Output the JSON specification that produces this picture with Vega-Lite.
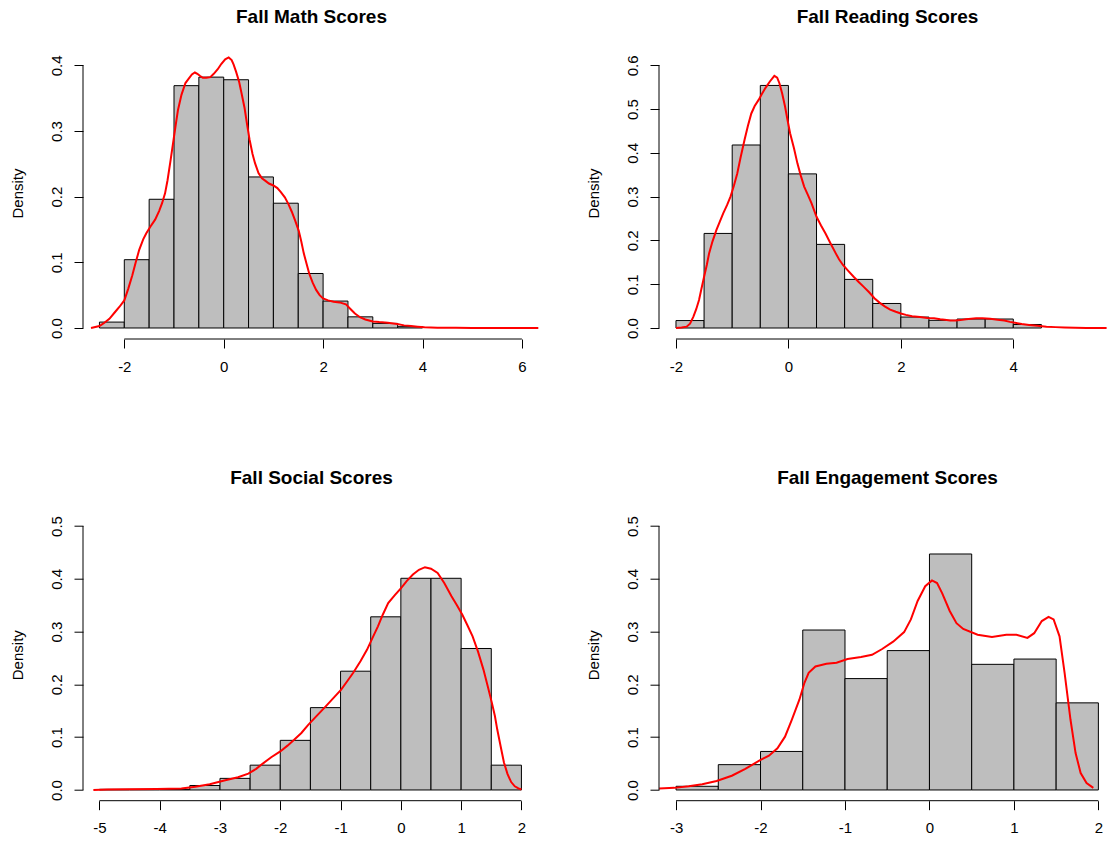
{
  "$schema": "https://vega.github.io/schema/vega-lite/v6.json",
  "background": "white",
  "autosize": {"type": "pad"},
  "padding": {"left": 10, "top": 7, "right": 0, "bottom": 0},
  "datasets": {
    "math_hist": [
      {"bin_start": -2.5, "bin_end": -2.0, "density": 0.009},
      {"bin_start": -2.0, "bin_end": -1.5, "density": 0.104},
      {"bin_start": -1.5, "bin_end": -1.0, "density": 0.196},
      {"bin_start": -1.0, "bin_end": -0.5, "density": 0.369},
      {"bin_start": -0.5, "bin_end": 0.0, "density": 0.382},
      {"bin_start": 0.0, "bin_end": 0.5, "density": 0.378},
      {"bin_start": 0.5, "bin_end": 1.0, "density": 0.230},
      {"bin_start": 1.0, "bin_end": 1.5, "density": 0.190},
      {"bin_start": 1.5, "bin_end": 2.0, "density": 0.083},
      {"bin_start": 2.0, "bin_end": 2.5, "density": 0.041},
      {"bin_start": 2.5, "bin_end": 3.0, "density": 0.017},
      {"bin_start": 3.0, "bin_end": 3.5, "density": 0.007},
      {"bin_start": 3.5, "bin_end": 4.0, "density": 0.002}
    ],
    "math_density": [
      {"x": -2.67, "density": 0}, {"x": -2.5, "density": 0.003}, {"x": -2.4, "density": 0.008}, {"x": -2.3, "density": 0.014},
      {"x": -2.19, "density": 0.024}, {"x": -2.1, "density": 0.032}, {"x": -2.0, "density": 0.042}, {"x": -1.92, "density": 0.06},
      {"x": -1.84, "density": 0.08}, {"x": -1.77, "density": 0.1}, {"x": -1.7, "density": 0.119}, {"x": -1.62, "density": 0.135},
      {"x": -1.56, "density": 0.144}, {"x": -1.47, "density": 0.155}, {"x": -1.38, "density": 0.165}, {"x": -1.3, "density": 0.178},
      {"x": -1.24, "density": 0.19}, {"x": -1.18, "density": 0.205}, {"x": -1.13, "density": 0.225}, {"x": -1.07, "density": 0.255},
      {"x": -1.01, "density": 0.286}, {"x": -0.96, "density": 0.312}, {"x": -0.92, "density": 0.332}, {"x": -0.85, "density": 0.355},
      {"x": -0.77, "density": 0.373}, {"x": -0.7, "density": 0.38}, {"x": -0.64, "density": 0.386}, {"x": -0.58, "density": 0.389},
      {"x": -0.53, "density": 0.387}, {"x": -0.48, "density": 0.384}, {"x": -0.42, "density": 0.381}, {"x": -0.35, "density": 0.381},
      {"x": -0.27, "density": 0.382}, {"x": -0.2, "density": 0.387}, {"x": -0.12, "density": 0.394}, {"x": -0.05, "density": 0.402},
      {"x": 0.03, "density": 0.409}, {"x": 0.1, "density": 0.412}, {"x": 0.16, "density": 0.408}, {"x": 0.2, "density": 0.401},
      {"x": 0.25, "density": 0.39}, {"x": 0.31, "density": 0.375}, {"x": 0.36, "density": 0.357}, {"x": 0.42, "density": 0.335},
      {"x": 0.47, "density": 0.31}, {"x": 0.52, "density": 0.287}, {"x": 0.58, "density": 0.265}, {"x": 0.63, "density": 0.251},
      {"x": 0.7, "density": 0.236}, {"x": 0.77, "density": 0.228}, {"x": 0.84, "density": 0.224}, {"x": 0.91, "density": 0.22},
      {"x": 1.0, "density": 0.217}, {"x": 1.08, "density": 0.213}, {"x": 1.15, "density": 0.207}, {"x": 1.23, "density": 0.199},
      {"x": 1.3, "density": 0.189}, {"x": 1.37, "density": 0.177}, {"x": 1.44, "density": 0.163}, {"x": 1.51, "density": 0.148},
      {"x": 1.56, "density": 0.132}, {"x": 1.61, "density": 0.114}, {"x": 1.67, "density": 0.097}, {"x": 1.72, "density": 0.083},
      {"x": 1.79, "density": 0.069}, {"x": 1.86, "density": 0.058}, {"x": 1.93, "density": 0.05}, {"x": 2.0, "density": 0.045},
      {"x": 2.1, "density": 0.042}, {"x": 2.21, "density": 0.04}, {"x": 2.33, "density": 0.039}, {"x": 2.46, "density": 0.036},
      {"x": 2.55, "density": 0.029}, {"x": 2.64, "density": 0.022}, {"x": 2.75, "density": 0.016}, {"x": 2.85, "density": 0.013},
      {"x": 3.0, "density": 0.01}, {"x": 3.13, "density": 0.009}, {"x": 3.3, "density": 0.008}, {"x": 3.49, "density": 0.006},
      {"x": 3.63, "density": 0.004}, {"x": 3.77, "density": 0.003}, {"x": 3.9, "density": 0.002}, {"x": 4.04, "density": 0.001},
      {"x": 4.3, "density": 0.0005}, {"x": 4.67, "density": 0.0002}, {"x": 5.0, "density": 0.0001}, {"x": 5.5, "density": 0},
      {"x": 6.0, "density": 0}, {"x": 6.33, "density": 0}
    ],
    "reading_hist": [
      {"bin_start": -2.0, "bin_end": -1.5, "density": 0.017},
      {"bin_start": -1.5, "bin_end": -1.0, "density": 0.216},
      {"bin_start": -1.0, "bin_end": -0.5, "density": 0.418},
      {"bin_start": -0.5, "bin_end": 0.0, "density": 0.554},
      {"bin_start": 0.0, "bin_end": 0.5, "density": 0.352},
      {"bin_start": 0.5, "bin_end": 1.0, "density": 0.191},
      {"bin_start": 1.0, "bin_end": 1.5, "density": 0.111},
      {"bin_start": 1.5, "bin_end": 2.0, "density": 0.056},
      {"bin_start": 2.0, "bin_end": 2.5, "density": 0.025},
      {"bin_start": 2.5, "bin_end": 3.0, "density": 0.0175},
      {"bin_start": 3.0, "bin_end": 3.5, "density": 0.0205},
      {"bin_start": 3.5, "bin_end": 4.0, "density": 0.0205},
      {"bin_start": 4.0, "bin_end": 4.5, "density": 0.008}
    ],
    "reading_density": [
      {"x": -2.0, "density": 0}, {"x": -1.9, "density": 0.001}, {"x": -1.81, "density": 0.003}, {"x": -1.75, "density": 0.01},
      {"x": -1.69, "density": 0.026}, {"x": -1.64, "density": 0.043}, {"x": -1.59, "density": 0.064}, {"x": -1.55, "density": 0.088},
      {"x": -1.5, "density": 0.117}, {"x": -1.45, "density": 0.145}, {"x": -1.41, "density": 0.171}, {"x": -1.35, "density": 0.198},
      {"x": -1.28, "density": 0.224}, {"x": -1.22, "density": 0.243}, {"x": -1.16, "density": 0.262}, {"x": -1.09, "density": 0.281},
      {"x": -1.03, "density": 0.3}, {"x": -0.97, "density": 0.325}, {"x": -0.91, "density": 0.353}, {"x": -0.85, "density": 0.39},
      {"x": -0.78, "density": 0.43}, {"x": -0.72, "density": 0.462}, {"x": -0.66, "density": 0.49}, {"x": -0.6, "density": 0.507},
      {"x": -0.53, "density": 0.521}, {"x": -0.47, "density": 0.535}, {"x": -0.41, "density": 0.548}, {"x": -0.33, "density": 0.563},
      {"x": -0.25, "density": 0.576}, {"x": -0.2, "density": 0.572}, {"x": -0.16, "density": 0.559}, {"x": -0.11, "density": 0.535},
      {"x": -0.06, "density": 0.506}, {"x": -0.02, "density": 0.478}, {"x": 0.03, "density": 0.445}, {"x": 0.1, "density": 0.41},
      {"x": 0.16, "density": 0.376}, {"x": 0.22, "density": 0.348}, {"x": 0.28, "density": 0.323}, {"x": 0.35, "density": 0.303},
      {"x": 0.41, "density": 0.285}, {"x": 0.5, "density": 0.254}, {"x": 0.58, "density": 0.234}, {"x": 0.66, "density": 0.216},
      {"x": 0.75, "density": 0.193}, {"x": 0.84, "density": 0.171}, {"x": 0.9, "density": 0.157}, {"x": 0.97, "density": 0.144},
      {"x": 1.06, "density": 0.131}, {"x": 1.16, "density": 0.117}, {"x": 1.25, "density": 0.105}, {"x": 1.34, "density": 0.094},
      {"x": 1.44, "density": 0.081}, {"x": 1.53, "density": 0.068}, {"x": 1.62, "density": 0.058}, {"x": 1.72, "density": 0.049},
      {"x": 1.81, "density": 0.042}, {"x": 1.91, "density": 0.037}, {"x": 2.0, "density": 0.033}, {"x": 2.09, "density": 0.03},
      {"x": 2.2, "density": 0.027}, {"x": 2.34, "density": 0.025}, {"x": 2.47, "density": 0.023}, {"x": 2.59, "density": 0.022},
      {"x": 2.7, "density": 0.02}, {"x": 2.78, "density": 0.019}, {"x": 2.88, "density": 0.017}, {"x": 2.97, "density": 0.017},
      {"x": 3.06, "density": 0.018}, {"x": 3.16, "density": 0.02}, {"x": 3.25, "density": 0.021}, {"x": 3.34, "density": 0.022},
      {"x": 3.45, "density": 0.022}, {"x": 3.59, "density": 0.021}, {"x": 3.72, "density": 0.019}, {"x": 3.84, "density": 0.017},
      {"x": 3.94, "density": 0.014}, {"x": 4.03, "density": 0.012}, {"x": 4.15, "density": 0.009}, {"x": 4.28, "density": 0.007},
      {"x": 4.43, "density": 0.005}, {"x": 4.59, "density": 0.003}, {"x": 4.75, "density": 0.002}, {"x": 4.91, "density": 0.001},
      {"x": 5.1, "density": 0.0003}, {"x": 5.3, "density": 0}, {"x": 5.66, "density": 0}
    ],
    "social_hist": [
      {"bin_start": -5.0, "bin_end": -4.5, "density": 0.0012},
      {"bin_start": -4.5, "bin_end": -4.0, "density": 0.0012},
      {"bin_start": -4.0, "bin_end": -3.5, "density": 0.0012},
      {"bin_start": -3.5, "bin_end": -3.0, "density": 0.0085},
      {"bin_start": -3.0, "bin_end": -2.5, "density": 0.022},
      {"bin_start": -2.5, "bin_end": -2.0, "density": 0.047},
      {"bin_start": -2.0, "bin_end": -1.5, "density": 0.094},
      {"bin_start": -1.5, "bin_end": -1.0, "density": 0.156},
      {"bin_start": -1.0, "bin_end": -0.5, "density": 0.225},
      {"bin_start": -0.5, "bin_end": 0.0, "density": 0.328},
      {"bin_start": 0.0, "bin_end": 0.5, "density": 0.401},
      {"bin_start": 0.5, "bin_end": 1.0, "density": 0.401},
      {"bin_start": 1.0, "bin_end": 1.5, "density": 0.268},
      {"bin_start": 1.5, "bin_end": 2.0, "density": 0.047}
    ],
    "social_density": [
      {"x": -5.1, "density": 0}, {"x": -4.87, "density": 0.001}, {"x": -4.5, "density": 0.0015}, {"x": -4.05, "density": 0.002},
      {"x": -3.64, "density": 0.003}, {"x": -3.41, "density": 0.006}, {"x": -3.17, "density": 0.011}, {"x": -2.93, "density": 0.018},
      {"x": -2.7, "density": 0.024}, {"x": -2.53, "density": 0.031}, {"x": -2.4, "density": 0.04}, {"x": -2.29, "density": 0.05},
      {"x": -2.15, "density": 0.062}, {"x": -2.0, "density": 0.073}, {"x": -1.88, "density": 0.084}, {"x": -1.77, "density": 0.095},
      {"x": -1.65, "density": 0.108}, {"x": -1.54, "density": 0.123}, {"x": -1.4, "density": 0.14}, {"x": -1.25, "density": 0.158},
      {"x": -1.12, "density": 0.174}, {"x": -0.99, "density": 0.19}, {"x": -0.89, "density": 0.206}, {"x": -0.79, "density": 0.222},
      {"x": -0.67, "density": 0.244}, {"x": -0.56, "density": 0.266}, {"x": -0.47, "density": 0.288}, {"x": -0.38, "density": 0.31},
      {"x": -0.3, "density": 0.332}, {"x": -0.21, "density": 0.354}, {"x": -0.1, "density": 0.369}, {"x": 0.0, "density": 0.382},
      {"x": 0.1, "density": 0.396}, {"x": 0.2, "density": 0.408}, {"x": 0.3, "density": 0.417}, {"x": 0.4, "density": 0.422},
      {"x": 0.5, "density": 0.419}, {"x": 0.61, "density": 0.411}, {"x": 0.72, "density": 0.392}, {"x": 0.84, "density": 0.367},
      {"x": 0.93, "density": 0.35}, {"x": 1.02, "density": 0.332}, {"x": 1.1, "density": 0.313}, {"x": 1.19, "density": 0.291},
      {"x": 1.28, "density": 0.262}, {"x": 1.37, "density": 0.228}, {"x": 1.44, "density": 0.197}, {"x": 1.51, "density": 0.165},
      {"x": 1.56, "density": 0.14}, {"x": 1.6, "density": 0.114}, {"x": 1.66, "density": 0.08}, {"x": 1.71, "density": 0.052},
      {"x": 1.77, "density": 0.03}, {"x": 1.83, "density": 0.015}, {"x": 1.89, "density": 0.007}, {"x": 1.95, "density": 0.003},
      {"x": 2.0, "density": 0.001}
    ],
    "engagement_hist": [
      {"bin_start": -3.0, "bin_end": -2.5, "density": 0.007},
      {"bin_start": -2.5, "bin_end": -2.0, "density": 0.048},
      {"bin_start": -2.0, "bin_end": -1.5, "density": 0.073},
      {"bin_start": -1.5, "bin_end": -1.0, "density": 0.303},
      {"bin_start": -1.0, "bin_end": -0.5, "density": 0.211},
      {"bin_start": -0.5, "bin_end": 0.0, "density": 0.264},
      {"bin_start": 0.0, "bin_end": 0.5, "density": 0.447},
      {"bin_start": 0.5, "bin_end": 1.0, "density": 0.238},
      {"bin_start": 1.0, "bin_end": 1.5, "density": 0.248},
      {"bin_start": 1.5, "bin_end": 2.0, "density": 0.165}
    ],
    "engagement_density": [
      {"x": -3.2, "density": 0.003}, {"x": -3.02, "density": 0.004}, {"x": -2.85, "density": 0.007}, {"x": -2.69, "density": 0.011},
      {"x": -2.52, "density": 0.017}, {"x": -2.34, "density": 0.027}, {"x": -2.18, "density": 0.04}, {"x": -2.01, "density": 0.056},
      {"x": -1.9, "density": 0.065}, {"x": -1.8, "density": 0.079}, {"x": -1.71, "density": 0.101}, {"x": -1.63, "density": 0.133},
      {"x": -1.54, "density": 0.171}, {"x": -1.48, "density": 0.203}, {"x": -1.43, "density": 0.222}, {"x": -1.35, "density": 0.234},
      {"x": -1.22, "density": 0.239}, {"x": -1.1, "density": 0.241}, {"x": -0.97, "density": 0.248}, {"x": -0.81, "density": 0.252},
      {"x": -0.68, "density": 0.256}, {"x": -0.56, "density": 0.267}, {"x": -0.43, "density": 0.281}, {"x": -0.3, "density": 0.299},
      {"x": -0.22, "density": 0.323}, {"x": -0.14, "density": 0.358}, {"x": -0.05, "density": 0.386}, {"x": 0.03, "density": 0.397},
      {"x": 0.09, "density": 0.392}, {"x": 0.15, "density": 0.373}, {"x": 0.24, "density": 0.339}, {"x": 0.32, "density": 0.316},
      {"x": 0.4, "density": 0.305}, {"x": 0.57, "density": 0.294}, {"x": 0.74, "density": 0.29}, {"x": 0.91, "density": 0.294},
      {"x": 1.03, "density": 0.294}, {"x": 1.16, "density": 0.288}, {"x": 1.24, "density": 0.297}, {"x": 1.33, "density": 0.32},
      {"x": 1.41, "density": 0.328}, {"x": 1.47, "density": 0.323}, {"x": 1.54, "density": 0.291}, {"x": 1.6, "density": 0.222},
      {"x": 1.67, "density": 0.133}, {"x": 1.73, "density": 0.07}, {"x": 1.79, "density": 0.032}, {"x": 1.86, "density": 0.013},
      {"x": 1.94, "density": 0.004}
    ]
  },
  "columns": 2,
  "bounds": "flush",
  "spacing": {"row": 169.7, "column": 119},
  "concat": [
    {
      "width": 457, "height": 292,
      "title": {"text": "Fall Math Scores"},
      "layer": [
        {
          "data": {"name": "math_hist"},
          "mark": {"type": "bar", "fill": "#bebebe", "stroke": "black", "strokeWidth": 1, "clip": true},
          "encoding": {
            "x": {"field": "bin_start", "type": "quantitative", "scale": {"domain": [-2.831, 6.364], "nice": false, "zero": false}, "axis": {"values": [-2, 0, 2, 4, 6]}},
            "x2": {"field": "bin_end"},
            "y": {"field": "density", "type": "quantitative", "scale": {"domain": [-0.01675, 0.42786], "nice": false, "zero": false}, "axis": {"values": [0, 0.1, 0.2, 0.3, 0.4], "title": "Density"}},
            "y2": {"datum": 0}
          }
        },
        {
          "data": {"name": "math_density"},
          "mark": {"type": "line", "color": "red", "strokeWidth": 2, "clip": true},
          "encoding": {"x": {"field": "x", "type": "quantitative"}, "y": {"field": "density", "type": "quantitative"}}
        },
        {
          "data": {"values": [{}]},
          "mark": {"type": "rule", "color": "black", "strokeWidth": 1},
          "encoding": {"x": {"datum": -2}, "x2": {"datum": 6}, "y": {"datum": -0.01675}}
        },
        {
          "data": {"values": [{}]},
          "mark": {"type": "rule", "color": "black", "strokeWidth": 1},
          "encoding": {"x": {"datum": -2.831}, "y": {"datum": 0}, "y2": {"datum": 0.4}}
        }
      ]
    },
    {
      "width": 448, "height": 292,
      "title": {"text": "Fall Reading Scores", "dx": 4.5},
      "layer": [
        {
          "data": {"name": "reading_hist"},
          "mark": {"type": "bar", "fill": "#bebebe", "stroke": "black", "strokeWidth": 1, "clip": true},
          "encoding": {
            "x": {"field": "bin_start", "type": "quantitative", "scale": {"domain": [-2.302, 5.667], "nice": false, "zero": false}, "axis": {"values": [-2, 0, 2, 4]}},
            "x2": {"field": "bin_end"},
            "y": {"field": "density", "type": "quantitative", "scale": {"domain": [-0.02512, 0.6418], "nice": false, "zero": false}, "axis": {"values": [0, 0.1, 0.2, 0.3, 0.4, 0.5, 0.6], "title": "Density"}},
            "y2": {"datum": 0}
          }
        },
        {
          "data": {"name": "reading_density"},
          "mark": {"type": "line", "color": "red", "strokeWidth": 2, "clip": true},
          "encoding": {"x": {"field": "x", "type": "quantitative"}, "y": {"field": "density", "type": "quantitative"}}
        },
        {
          "data": {"values": [{}]},
          "mark": {"type": "rule", "color": "black", "strokeWidth": 1},
          "encoding": {"x": {"datum": -2}, "x2": {"datum": 4}, "y": {"datum": -0.02512}}
        },
        {
          "data": {"values": [{}]},
          "mark": {"type": "rule", "color": "black", "strokeWidth": 1},
          "encoding": {"x": {"datum": -2.302}, "y": {"datum": 0}, "y2": {"datum": 0.6}}
        }
      ]
    },
    {
      "width": 457, "height": 292,
      "title": {"text": "Fall Social Scores"},
      "layer": [
        {
          "data": {"name": "social_hist"},
          "mark": {"type": "bar", "fill": "#bebebe", "stroke": "black", "strokeWidth": 1, "clip": true},
          "encoding": {
            "x": {"field": "bin_start", "type": "quantitative", "scale": {"domain": [-5.272, 2.308], "nice": false, "zero": false}, "axis": {"values": [-5, -4, -3, -2, -1, 0, 1, 2]}},
            "x2": {"field": "bin_end"},
            "y": {"field": "density", "type": "quantitative", "scale": {"domain": [-0.0203, 0.5328], "nice": false, "zero": false}, "axis": {"values": [0, 0.1, 0.2, 0.3, 0.4, 0.5], "title": "Density"}},
            "y2": {"datum": 0}
          }
        },
        {
          "data": {"name": "social_density"},
          "mark": {"type": "line", "color": "red", "strokeWidth": 2, "clip": true},
          "encoding": {"x": {"field": "x", "type": "quantitative"}, "y": {"field": "density", "type": "quantitative"}}
        },
        {
          "data": {"values": [{}]},
          "mark": {"type": "rule", "color": "black", "strokeWidth": 1},
          "encoding": {"x": {"datum": -5}, "x2": {"datum": 2}, "y": {"datum": -0.0203}}
        },
        {
          "data": {"values": [{}]},
          "mark": {"type": "rule", "color": "black", "strokeWidth": 1},
          "encoding": {"x": {"datum": -5.272}, "y": {"datum": 0}, "y2": {"datum": 0.5}}
        }
      ]
    },
    {
      "width": 448, "height": 292,
      "title": {"text": "Fall Engagement Scores", "dx": 4.5},
      "layer": [
        {
          "data": {"name": "engagement_hist"},
          "mark": {"type": "bar", "fill": "#bebebe", "stroke": "black", "strokeWidth": 1, "clip": true},
          "encoding": {
            "x": {"field": "bin_start", "type": "quantitative", "scale": {"domain": [-3.202, 2.102], "nice": false, "zero": false}, "axis": {"values": [-3, -2, -1, 0, 1, 2]}},
            "x2": {"field": "bin_end"},
            "y": {"field": "density", "type": "quantitative", "scale": {"domain": [-0.0203, 0.5328], "nice": false, "zero": false}, "axis": {"values": [0, 0.1, 0.2, 0.3, 0.4, 0.5], "title": "Density"}},
            "y2": {"datum": 0}
          }
        },
        {
          "data": {"name": "engagement_density"},
          "mark": {"type": "line", "color": "red", "strokeWidth": 2, "clip": true},
          "encoding": {"x": {"field": "x", "type": "quantitative"}, "y": {"field": "density", "type": "quantitative"}}
        },
        {
          "data": {"values": [{}]},
          "mark": {"type": "rule", "color": "black", "strokeWidth": 1},
          "encoding": {"x": {"datum": -3}, "x2": {"datum": 2}, "y": {"datum": -0.0203}}
        },
        {
          "data": {"values": [{}]},
          "mark": {"type": "rule", "color": "black", "strokeWidth": 1},
          "encoding": {"x": {"datum": -3.202}, "y": {"datum": 0}, "y2": {"datum": 0.5}}
        }
      ]
    }
  ],
  "config": {
    "view": {"stroke": null},
    "font": "Liberation Sans",
    "title": {"font": "Liberation Sans", "fontSize": 19, "fontWeight": "bold", "color": "black", "anchor": "middle", "baseline": "alphabetic", "offset": 20.5, "frame": "group"},
    "axis": {
      "domain": false, "grid": false, "ticks": true, "tickColor": "black", "tickSize": 9, "tickWidth": 1,
      "labelFont": "Liberation Sans", "labelFontSize": 15, "labelColor": "black", "labelFlush": false, "labelOverlap": false,
      "titleFont": "Liberation Sans", "titleFontSize": 15, "titleFontWeight": "normal", "titleColor": "black"
    },
    "axisX": {"title": null, "labelBaseline": "alphabetic", "labelAlign": "center", "labelPadding": 23, "labelExpr": "'' + datum.value"},
    "axisY": {"labelAngle": -90, "labelAlign": "center", "labelBaseline": "alphabetic", "labelPadding": 13, "format": ".1f",
              "titleAngle": -90, "titleAlign": "center", "titleBaseline": "alphabetic", "titleX": -61, "titleY": 146}
  }
}
